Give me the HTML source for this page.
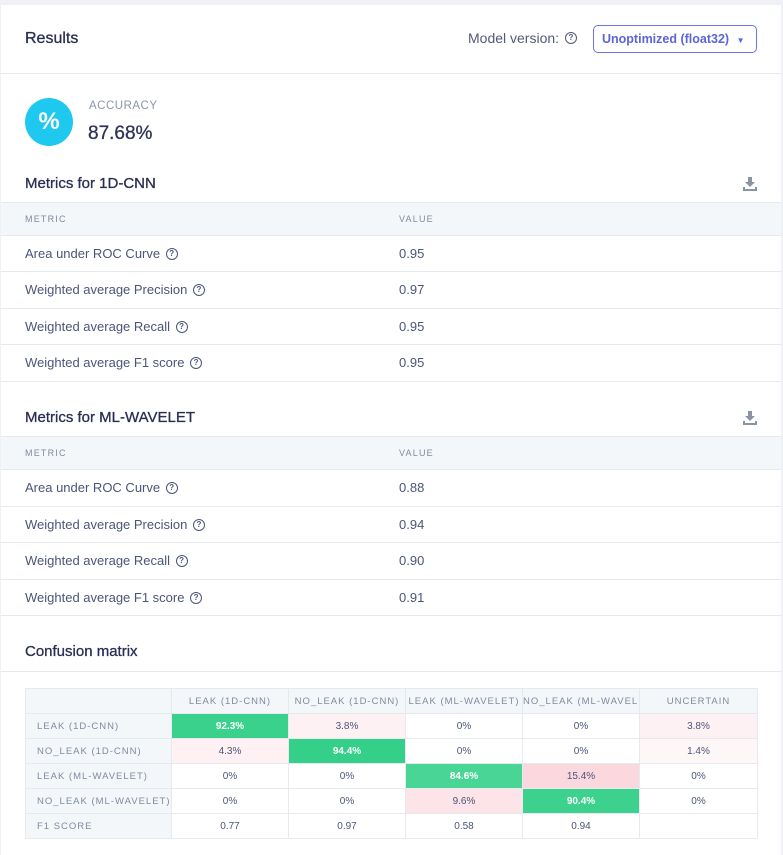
<!DOCTYPE html>
<html><head><meta charset="utf-8">
<style>
*{box-sizing:border-box;margin:0;padding:0}
body{width:783px;height:850px;background:#eff1f6;font-family:"Liberation Sans",sans-serif;color:#3a3f63;position:relative;overflow:hidden}
#card{position:absolute;left:1px;top:5px;width:780px;height:850px;background:#fff}
.abs{position:absolute}
.hl{position:absolute;left:0;width:780px;height:1px;background:#e6e9ee}
.title{position:absolute;left:24px;font-size:15px;color:#2a2e52;-webkit-text-stroke:0.3px #2a2e52}
.th{position:absolute;left:0;width:780px;background:#f4f7fa;border-top:1px solid #e6e9ee;border-bottom:1px solid #e6e9ee}
.th span{position:absolute;top:11px;font-size:9px;letter-spacing:1.2px;color:#7f8a9e}
.row{position:absolute;left:0;width:780px;border-bottom:1px solid #e6e9ee;font-size:13px;color:#4b5578}
.row .l{position:absolute;left:24px;top:10px}
.row .v{position:absolute;left:398px;top:10px}
.q{display:inline-block;position:relative;top:-1px;width:12px;height:12px;border:1.4px solid #4b5578;border-radius:50%;font-size:8px;line-height:10px;text-align:center;font-weight:bold;vertical-align:middle;margin-left:2px}
.dl{position:absolute;left:742px;width:14px;height:14px}
#cm{position:absolute;left:25px;top:688px;border-collapse:collapse;font-size:10px}
#cm td{border:1px solid #e6e9ee;height:25px;text-align:center;color:#4b5578;padding:0;overflow:hidden;white-space:nowrap}
#cm td.hd{background:#f4f7fa;color:#7f8a9e;letter-spacing:1px;font-size:9.5px}
#cm td.rh{text-align:left;padding-left:11px}
</style></head><body>
<div id="card">
  <div class="title" style="top:25px;font-size:16px">Results</div>
  <div class="abs" style="left:467px;top:25px;font-size:14px;color:#525a78">Model version: <span class="q" style="border-color:#525a78;color:#525a78">?</span></div>
  <div class="abs" style="left:592px;top:20px;width:164px;height:28px;border:1px solid #6b74e0;border-radius:5px;color:#5c64d8;font-size:12.5px;font-weight:bold;padding:6px 0 0 8px">Unoptimized (float32) <span style="font-size:8px;margin-left:4px">▼</span></div>
  <div class="hl" style="top:68px"></div>
  <div class="abs" style="left:24px;top:93px;width:48px;height:48px;border-radius:50%;background:#1ec8ee;color:#fff;font-size:24px;font-weight:bold;text-align:center;line-height:48px">%</div>
  <div class="abs" style="left:88px;top:95px;font-size:11.5px;color:#8c96a8;letter-spacing:.5px">ACCURACY</div>
  <div class="abs" style="left:87px;top:118px;font-size:19px;color:#2f3357;-webkit-text-stroke:0.3px #2f3357">87.68%</div>

  <div class="title" style="top:170px">Metrics for 1D-CNN</div>
  <svg class="dl" style="top:172px" viewBox="0 0 14 14"><path d="M5 0h4v5h3L7 10 2 5h3z M0 10h2v2h10v-2h2v4H0z" fill="#8a94a8"/></svg>
  <div class="th" style="top:197px;height:34px"><span style="left:24px">METRIC</span><span style="left:398px">VALUE</span></div>
  <div class="row" style="top:231px;height:36px"><span class="l">Area under ROC Curve <span class="q">?</span></span><span class="v">0.95</span></div>
  <div class="row" style="top:267px;height:37px"><span class="l">Weighted average Precision <span class="q">?</span></span><span class="v">0.97</span></div>
  <div class="row" style="top:304px;height:36px"><span class="l">Weighted average Recall <span class="q">?</span></span><span class="v">0.95</span></div>
  <div class="row" style="top:340px;height:37px"><span class="l">Weighted average F1 score <span class="q">?</span></span><span class="v">0.95</span></div>

  <div class="title" style="top:404px">Metrics for ML-WAVELET</div>
  <svg class="dl" style="top:406px" viewBox="0 0 14 14"><path d="M5 0h4v5h3L7 10 2 5h3z M0 10h2v2h10v-2h2v4H0z" fill="#8a94a8"/></svg>
  <div class="th" style="top:431px;height:34px"><span style="left:24px">METRIC</span><span style="left:398px">VALUE</span></div>
  <div class="row" style="top:465px;height:37px"><span class="l">Area under ROC Curve <span class="q">?</span></span><span class="v">0.88</span></div>
  <div class="row" style="top:502px;height:36px"><span class="l">Weighted average Precision <span class="q">?</span></span><span class="v">0.94</span></div>
  <div class="row" style="top:538px;height:37px"><span class="l">Weighted average Recall <span class="q">?</span></span><span class="v">0.90</span></div>
  <div class="row" style="top:575px;height:36px"><span class="l">Weighted average F1 score <span class="q">?</span></span><span class="v">0.91</span></div>

  <div class="title" style="top:638px">Confusion matrix</div>
  <div class="hl" style="top:666px"></div>
</div>
<table id="cm"></table>
<script>
const colLabels=["LEAK (1D-CNN)","NO_LEAK (1D-CNN)","LEAK (ML-WAVELET)","NO_LEAK (ML-WAVELET)","UNCERTAIN"];
const rowLabels=["LEAK (1D-CNN)","NO_LEAK (1D-CNN)","LEAK (ML-WAVELET)","NO_LEAK (ML-WAVELET)"];
const matrix=[[92.3,3.8,0,0,3.8],[4.3,94.4,0,0,1.4],[0,0,84.6,15.4,0],[0,0,9.6,90.4,0]];
const f1Scores=[0.77,0.97,0.58,0.94,null];
const widths=[146,117,117,117,117,118];
const t=document.getElementById('cm');
function cellColor(v,diag){
  if(diag){const a=0.8+0.2*(v-80)/20;return `rgba(40,205,130,${a})`;}
  if(v<=0)return '#fff';
  const a=Math.min(1,0.12+v/15*0.88);
  return `rgba(251,215,222,${a})`;
}
let tr=document.createElement('tr');t.appendChild(tr);
for(let c=0;c<=colLabels.length;c++){const td=document.createElement('td');td.className='hd';td.style.width=widths[c]+'px';td.style.maxWidth=widths[c]+'px';td.textContent=c?colLabels[c-1]:'';


tr.appendChild(td);}
rowLabels.forEach((rl,r)=>{
  const tr=document.createElement('tr');t.appendChild(tr);
  const h=document.createElement('td');h.className='hd rh';h.textContent=rl;
  
  
  tr.appendChild(h);
  matrix[r].forEach((v,c)=>{const td=document.createElement('td');const diag=r===c;
    td.style.background=cellColor(v,diag);
    if(diag){td.style.color='#fff';td.style.fontWeight='bold';}
    td.textContent=v+'%';
    
    
    tr.appendChild(td);});
});
tr=document.createElement('tr');t.appendChild(tr);
const fh=document.createElement('td');fh.className='hd rh';fh.textContent='F1 SCORE';


tr.appendChild(fh);
f1Scores.forEach(v=>{const td=document.createElement('td');td.textContent=v===null?'':v.toFixed(2);


tr.appendChild(td);});
</script>
</body></html>
